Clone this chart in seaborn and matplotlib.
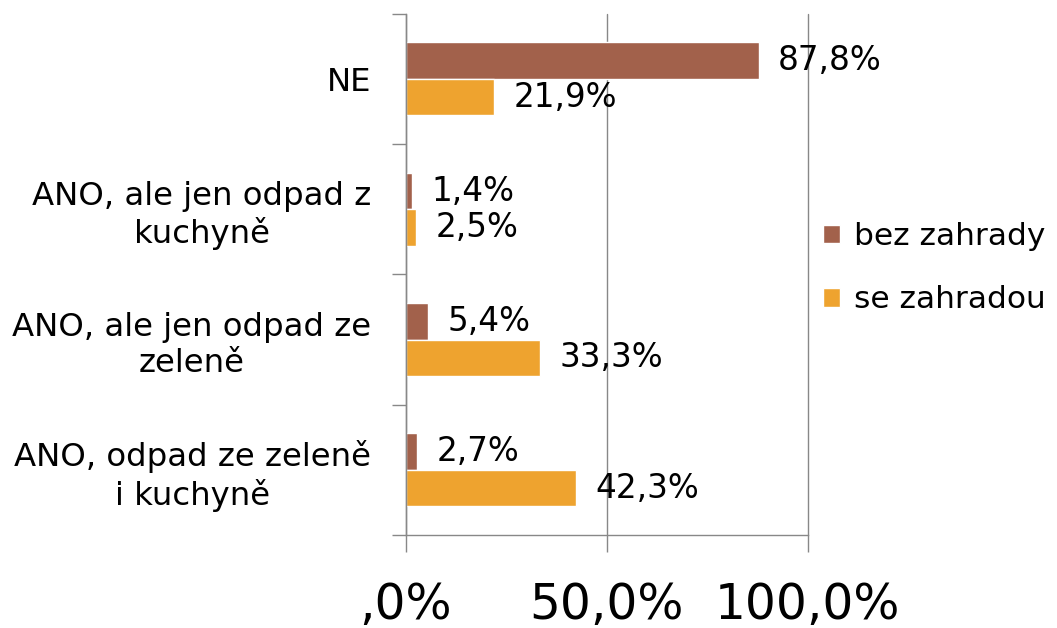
import pandas as pd
import numpy as np
import matplotlib.pyplot as plt
import seaborn as sns

categories = ['NE', 'ANO, ale jen odpad z\nkuchyně', 'ANO, ale jen odpad ze\nzeleně', 'ANO, odpad ze zeleně\ni kuchyně']
bez_zahrady = [87.8, 1.4, 5.4, 2.7]
se_zahradou = [21.9, 2.5, 33.3, 42.3]
series = ['bez zahrady', 'se zahradou']
xtick_labels = [',0%', '50,0%', '100,0%']

df = pd.DataFrame({
    'kategorie': categories * 2,
    'hodnota': bez_zahrady + se_zahradou,
    'skupina': [series[0]] * 4 + [series[1]] * 4,
})

sns.set_style('white')
plt.rcParams['font.family'] = ['DejaVu Sans']
plt.rcParams['text.color'] = 'black'
plt.rcParams['xtick.labelcolor'] = 'black'
plt.rcParams['ytick.labelcolor'] = 'black'

fig = plt.figure(figsize=(10.57, 6.28), dpi=100)
ax = fig.add_axes([0.384, 0.148, 0.380, 0.830])

sns.barplot(
    data=df, x='hodnota', y='kategorie', hue='skupina', orient='h',
    palette=['#A2614B', '#EEA32F'], width=0.56, ax=ax, saturation=1,
)

for cont in ax.containers:
    ax.bar_label(cont, labels=[f'{v:.1f}%'.replace('.', ',') for v in cont.datavalues],
                 padding=14, fontsize=23.5, color='black')

ax.set_xlim(0, 100)
ax.set_ylim(3.5, -0.5)
ax.set_xticks([0, 50, 100])
ax.set_xticklabels(xtick_labels, fontsize=35)
ax.tick_params(axis='x', bottom=True, direction='out', length=12, width=1, color='#888888', pad=21)
ax.set_yticks(range(len(categories)))
ax.set_yticklabels(categories, fontsize=23.3, multialignment='center')
ax.set_yticks(np.arange(-0.5, 4, 1), minor=True)
ax.tick_params(axis='y', which='major', left=False, length=0, pad=25)
ax.tick_params(axis='y', which='minor', left=True, direction='out', length=10, width=1, color='#888888')
ax.xaxis.grid(True, color='#888888', linewidth=1)
for gl in ax.get_xgridlines():
    gl.set_clip_on(False)
ax.set_axisbelow(True)
ax.set_xlabel('')
ax.set_ylabel('')

for s in ['top', 'right']:
    ax.spines[s].set_visible(False)
for s in ['left', 'bottom']:
    ax.spines[s].set_color('#888888')
    ax.spines[s].set_linewidth(1)

ax.legend(title=None, frameon=False, fontsize=22.5, loc='center left',
          bbox_to_anchor=(1.0, 0.512), borderaxespad=0.3, borderpad=0.2,
          handlelength=0.55, handleheight=0.55,
          handletextpad=0.45, labelspacing=1.1)

fig.savefig('out.png', dpi=100)
